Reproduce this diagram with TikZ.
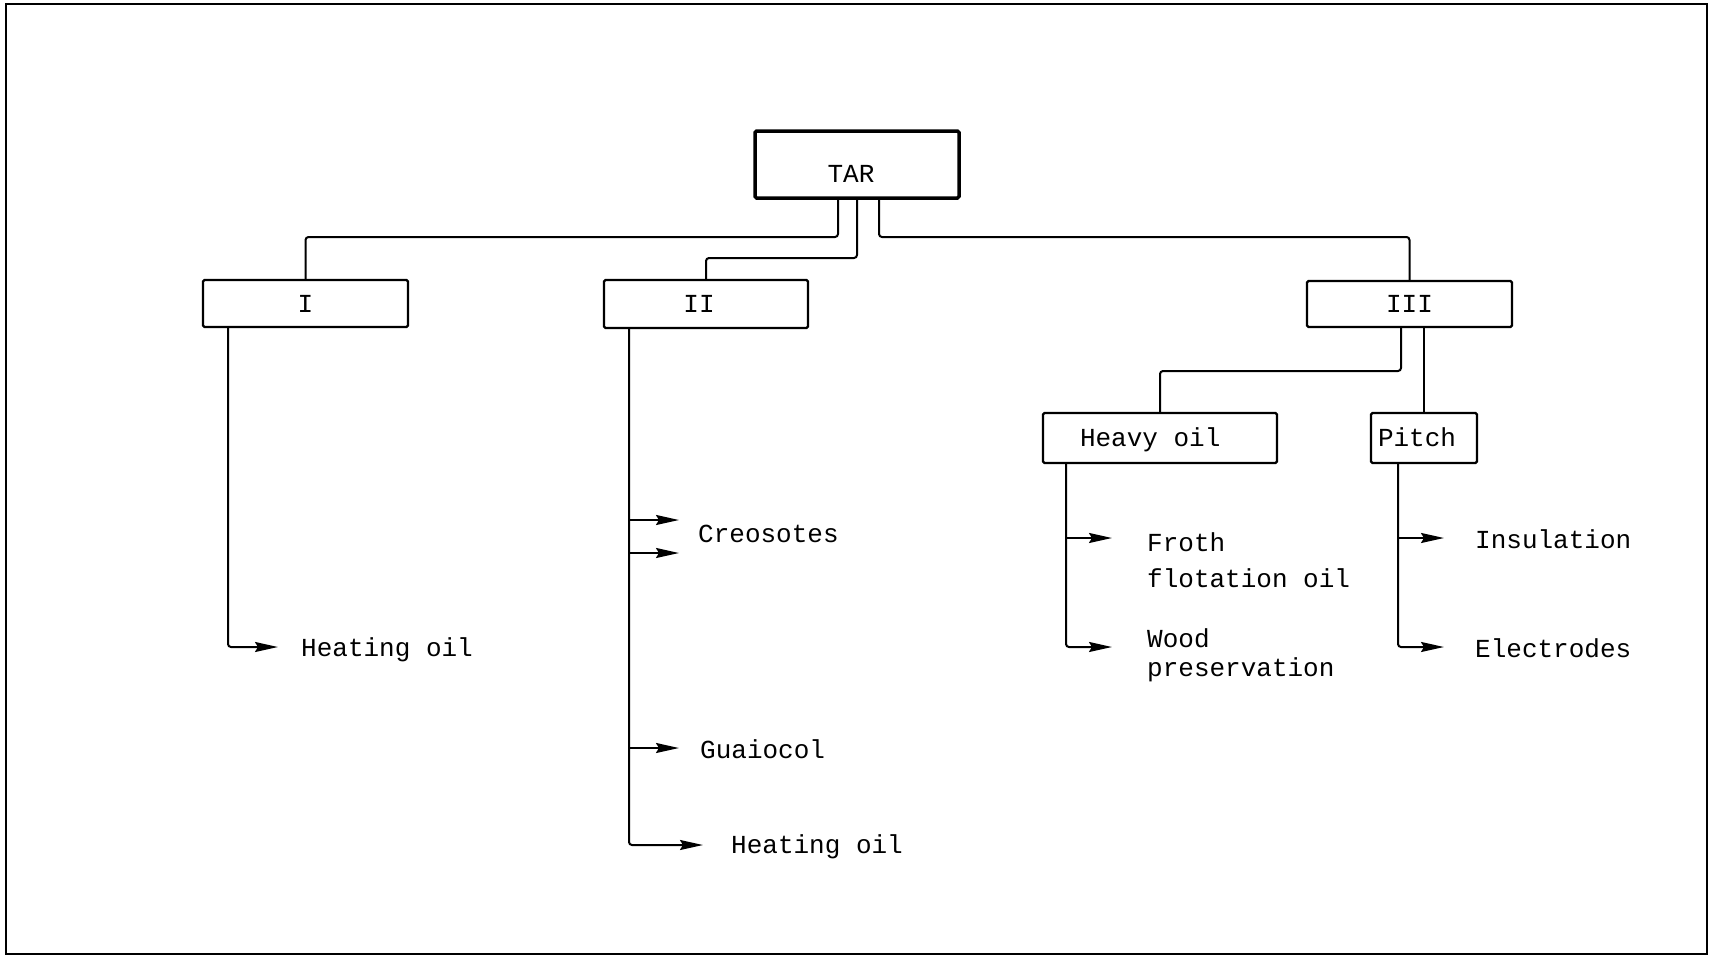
\documentclass[tikz,border=0pt]{standalone}
\usepackage{fontspec}
\setmonofont{Liberation Mono}
\usetikzlibrary{arrows.meta}
\begin{document}
\begin{tikzpicture}[x=1pt,y=-1pt,
  every node/.style={font=\ttfamily\fontsize{26}{30}\selectfont},
  box/.style={draw, line width=2.2pt, rounded corners=1.5pt, inner sep=0pt, text height=17pt, text depth=0pt},
  conn/.style={line width=2pt, rounded corners=3pt},
  outarrow/.style={line width=2pt, rounded corners=3pt, -{Stealth[length=23pt,width=10pt,inset=3pt]}},
  lbl/.style={anchor=base west, inner sep=0pt}]
\useasboundingbox (0,0) rectangle (1709,962);
\draw[line width=2.5pt] (6,4) rectangle (1707,954);

% boxes
\node[box, line width=3.5pt, minimum width=204pt, minimum height=67pt] (tar) at (857,164.5) {\hspace*{-12pt}\raisebox{-9.5pt}{TAR}};
\node[box, minimum width=205pt, minimum height=47pt] (b1) at (305.5,303.5) {I};
\node[box, minimum width=204pt, minimum height=48pt] (b2) at (706,304) {\hspace*{-14pt}II};
\node[box, minimum width=205pt, minimum height=46pt] (b3) at (1409.5,304) {III};
\node[box, minimum height=50pt, inner xsep=37pt] (heavy) at (1160,438) {\makebox[160pt][l]{Heavy oil}};
\node[box, minimum height=50pt, inner xsep=7pt] (pitch) at (1424,438) {\makebox[92pt][l]{Pitch}};

% connectors from TAR
\coordinate (j1) at (838,237);
\coordinate (j2) at (857,258);
\coordinate (j3) at (879,237);
\draw[conn] (tar.south -| j1) -- (j1) -| (b1.north);
\draw[conn] (tar.south -| j2) -- (j2) -| (b2.north);
\draw[conn] (tar.south -| j3) -- (j3) -| (b3.north);

% III to heavy oil and pitch
\coordinate (j4) at (1401,371);
\draw[conn] (b3.south -| j4) -- (j4) -| (heavy.north);
\draw[conn] (b3.south -| pitch.north) -- (pitch.north);

% outputs of I
\coordinate (v1) at ([xshift=-77.5pt]b1.south);
\coordinate (t1) at (278,647);
\draw[outarrow] (v1) |- (t1);
\node[lbl] (o1) at (301,656) {Heating oil};

% outputs of II
\coordinate (v2) at ([xshift=-77pt]b2.south);
\coordinate (t2a) at (679,520);
\coordinate (t2b) at (679,553);
\coordinate (t2c) at (679,748);
\coordinate (t2d) at (703,845);
\draw[outarrow] (v2) |- (t2d);
\foreach \t in {t2a,t2b,t2c} \draw[outarrow] (v2 |- \t) -- (\t);
\node[lbl] (o2a) at (698,542) {Creosotes};
\node[lbl] (o2c) at (700,758) {Guaiocol};
\node[lbl] (o2d) at (731,853) {Heating oil};

% outputs of heavy oil
\coordinate (v3) at ([xshift=-94pt]heavy.south);
\coordinate (t3a) at (1112,538);
\coordinate (t3b) at (1112,647);
\draw[outarrow] (v3) |- (t3b);
\draw[outarrow] (v3 |- t3a) -- (t3a);
\node[lbl] (o3a) at (1147,551) {Froth};
\node[lbl] (o3b) at (1147,587) {flotation oil};
\node[lbl] (o3c) at (1147,647) {Wood};
\node[lbl] (o3d) at (1147,676) {preservation};

% outputs of pitch
\coordinate (v4) at ([xshift=-26pt]pitch.south);
\coordinate (t4a) at (1444,538);
\coordinate (t4b) at (1444,647);
\draw[outarrow] (v4) |- (t4b);
\draw[outarrow] (v4 |- t4a) -- (t4a);
\node[lbl] (o4a) at (1475,548) {Insulation};
\node[lbl] (o4b) at (1475,657) {Electrodes};
\end{tikzpicture}
\end{document}
